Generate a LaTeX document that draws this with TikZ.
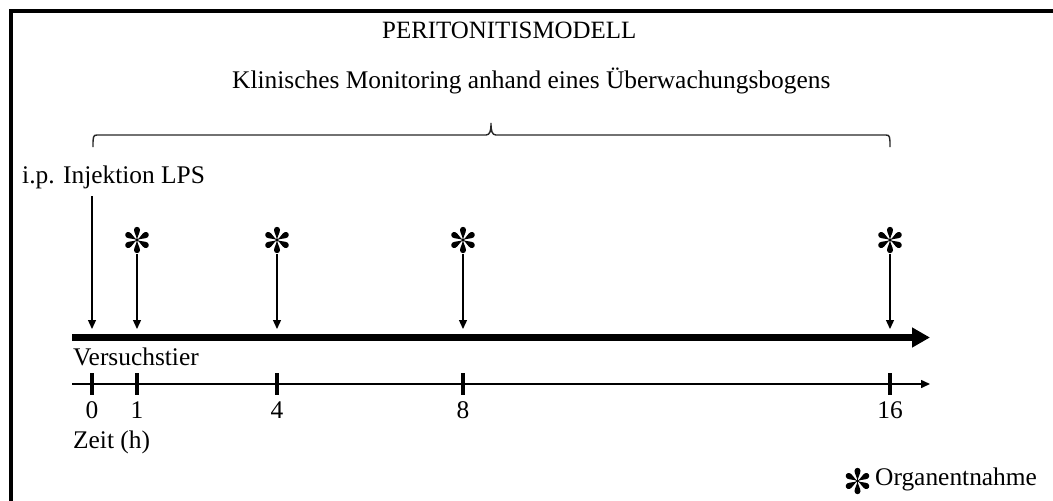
\documentclass[tikz,border=0pt]{standalone}
\usepackage{fontspec}
\setmainfont{Liberation Serif}
\usetikzlibrary{arrows.meta}
\tikzset{
  organstar/.pic={
    \foreach \a in {0,60,...,300}{
      \fill[rotate=\a] (0,0) .. controls (-0.5,-4) and (-3,-7.5) .. (-3,-10.2)
        arc[start angle=180,end angle=360,radius=3]
        .. controls (3,-7.5) and (0.5,-4) .. (0,0) -- cycle;
    }
    \fill (0,0) circle[radius=1.6];
  }
}
\begin{document}
\begin{tikzpicture}[x=1pt,y=-1pt,
  lbl/.style={font=\fontsize{25.4}{30}\selectfont, inner sep=0pt},
  pin/.style={line width=1.3pt, -{Triangle[length=9pt,width=8pt]}},
  timeline/.style={line width=7pt, -{Triangle[length=18pt,width=19pt]}},
  axisline/.style={line width=1.5pt, -{Triangle[length=9pt,width=8pt]}},
  tickmark/.style={line width=4pt},
  bracket/.style={line width=1.4pt, draw=black!85}
]
\useasboundingbox (0,0) rectangle (1053,501);
\clip (0,0) rectangle (1053,501);
% outer frame
\draw[line width=4pt] (10.5,10.5) rectangle (1200,700);

% headings and labels
\node[lbl, anchor=base west, font=\fontsize{24.9}{30}\selectfont] (title) at (382,38) {PERITONITISMODELL};
\node[lbl, anchor=base west] (monitor) at (232,88) {Klinisches Monitoring anhand eines Überwachungsbogens};
\node[lbl, anchor=base west] (lps) at (22,183) {i.p. Injektion LPS};
\node[lbl, anchor=base west] (tier) at (73,365) {Versuchstier};
\node[lbl, anchor=base west] (zeit) at (73,448) {Zeit (h)};
\node[lbl, anchor=base west] (legend) at (875,485) {Organentnahme};

% monitoring bracket
\draw[bracket] (93,147) .. controls (93,137) and (93,135) .. (97,135) -- (486,135)
  .. controls (490,135) and (491,131) .. (491,123)
  .. controls (491,131) and (492,135) .. (496,135) -- (886,135)
  .. controls (890,135) and (890,137) .. (890,147);

% experiment timeline
\coordinate (tlstart) at (72,337.5);
\coordinate (tlend) at (930,337.5);
\draw[timeline] (tlstart) -- (tlend);

% time axis
\coordinate (axstart) at (72,384);
\coordinate (axend) at (930,384);
\draw[axisline] (axstart) -- (axend);
\foreach \x/\t in {92/0,137/1,277/4,463/8,890/16}{
  \draw[tickmark] (\x,373) -- (\x,395);
  \node[lbl, anchor=base] (h\t) at (\x,418) {\t};
}

% injection
\coordinate (i0) at (92,196);
\coordinate (e0) at (92,329);
\draw[pin] (i0) -- (e0);

% organ sampling points
\foreach \x/\n in {137/1,277/4,463/8,890/16}{
  \pic at (\x,240) {organstar};
  \coordinate (s\n) at (\x,254);
  \coordinate (e\n) at (\x,329);
  \draw[pin] (s\n) -- (e\n);
}

% legend symbol
\pic at (857.5,481) {organstar};
\end{tikzpicture}
\end{document}
